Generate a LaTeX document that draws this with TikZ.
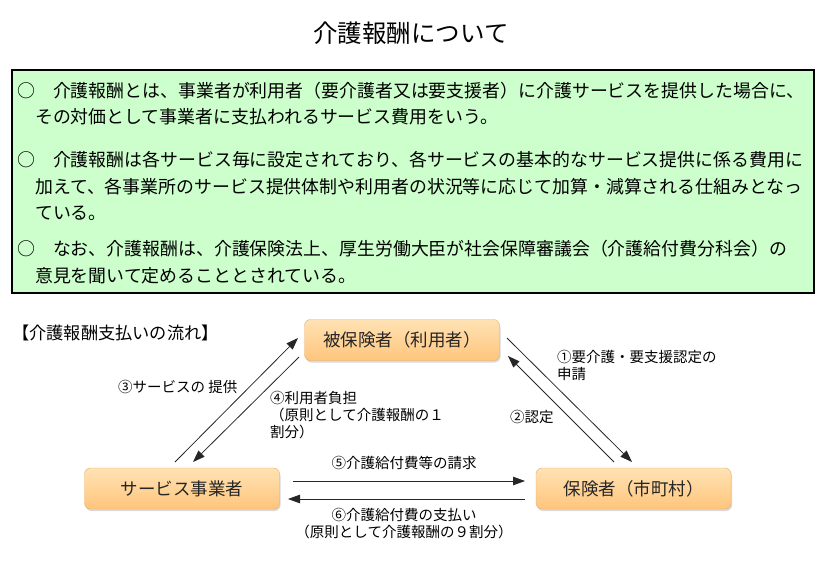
\documentclass[tikz,border=0pt]{standalone}
\usepackage{fontspec}
\setmainfont{Noto Sans CJK JP}
\usetikzlibrary{positioning,calc,arrows.meta,shadows}
\definecolor{notegreen}{HTML}{CCFFCC}
\definecolor{partytop}{HTML}{FFE2B4}
\definecolor{partybot}{HTML}{FFC57C}
\definecolor{partyline}{HTML}{E8AC64}
\newcommand*{\fs}[2]{\fontsize{#1}{#2}\selectfont}

\begin{document}
\begin{tikzpicture}[x=1pt,y=-1pt,
  party/.style={draw=partyline,rounded corners=6pt,top color=partytop,bottom color=partybot,
    minimum width=195pt,minimum height=41pt,inner sep=0pt,font=\fs{17.5}{20},text=black!85,
    drop shadow={opacity=0.3,shadow xshift=1pt,shadow yshift=-2pt}},
  para/.style={anchor=west,align=left,inner sep=0pt,font=\fs{17.9}{26.5}},
  lbl/.style={inner sep=0pt,font=\fs{14.5}{17}},
  flow/.style={draw=black!85,line width=0.8pt,-{Triangle[length=12pt,width=8.5pt]}}]
\useasboundingbox (0,0) rectangle (821,563);
% Title
\node[font=\fs{24.5}{28}] (title) at (411,33) {介護報酬について};
% Green note box
\draw[line width=1.6pt,fill=notegreen] (12,70) rectangle (814,293);
\node[para] (p1) at (17,103.5) {○　介護報酬とは、事業者が利用者（要介護者又は要支援者）に介護サービスを提供した場合に、\\　その対価として事業者に支払われるサービス費用をいう。};
\node[para] (p2) at (17,186) {○　介護報酬は各サービス毎に設定されており、各サービスの基本的なサービス提供に係る費用に\\　加えて、各事業所のサービス提供体制や利用者の状況等に応じて加算・減算される仕組みとなっ\\　ている。};
\node[para] (p3) at (17,262) {○　なお、介護報酬は、介護保険法上、厚生労働大臣が社会保障審議会（介護給付費分科会）の\\　意見を聞いて定めることとされている。};
% Payment flow
\node[anchor=west,inner sep=0pt,font=\fs{17.2}{20}] (flowhead) at (12,333) {【介護報酬支払いの流れ】};
\node[party] (insured) at (402,340) {被保険者（利用者）};
\node[party] (provider) at (182,488.5) {サービス事業者};
\node[party] (insurer) at (633.5,488.5) {保険者（市町村）};
% Arrow ends
\coordinate (a1s) at (507,338);
\coordinate (a1e) at (632,462);
\coordinate (a2s) at (614,462);
\coordinate (a2e) at (508,356);
\coordinate (a3s) at (175,462);
\coordinate (a3e) at (298,338);
\coordinate (a4s) at (299,357);
\coordinate (a4e) at (193,462);
\coordinate (a5s) at (293,481);
\coordinate (a5e) at (525,481);
\coordinate (a6s) at (525,499);
\coordinate (a6e) at (288,499);
\draw[flow] (a1s) -- (a1e);
\draw[flow] (a2s) -- (a2e);
\draw[flow] (a3s) -- (a3e);
\draw[flow] (a4s) -- (a4e);
\draw[flow] (a5s) -- (a5e);
\draw[flow] (a6s) -- (a6e);
% Arrow labels
\node[lbl,anchor=west,align=left] (l1) at (557,365) {①要介護・要支援認定の\\申請};
\node[lbl,anchor=west] (l2) at (510,417) {②認定};
\node[lbl,anchor=west] (l3) at (118,387) {③サービスの 提供};
\node[lbl,anchor=west,align=left] (l4) at (270,415) {④利用者負担\\（原則として介護報酬の１\\割分）};
\node[lbl] (l5) at (404,463) {⑤介護給付費等の請求};
\node[lbl,align=center] (l6) at (404,524) {⑥介護給付費の支払い\\（原則として介護報酬の９割分）};
\end{tikzpicture}
\end{document}
